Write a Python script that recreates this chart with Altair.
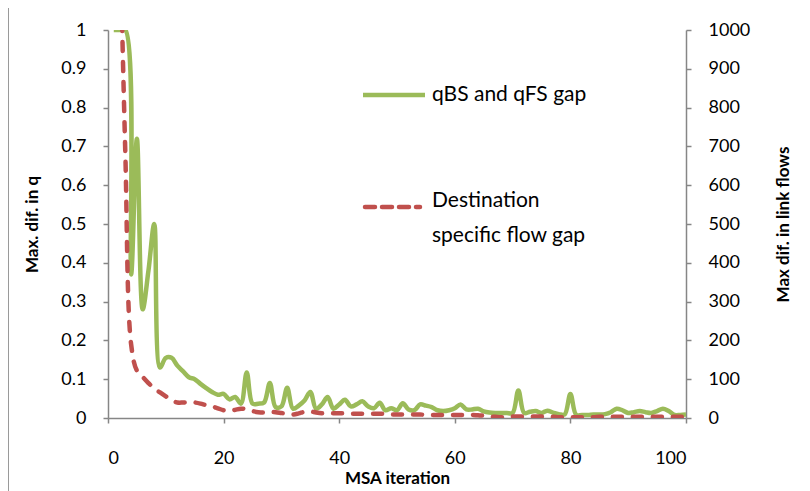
import altair as alt
import pandas as pd

iteration = list(range(1, 101))

q_gap = [
    1.0, 1.0, 1.0, 0.37, 0.72, 0.28, 0.38, 0.50, 0.13, 0.155,
    0.155, 0.135, 0.12, 0.105, 0.10, 0.088, 0.077, 0.067, 0.060, 0.062,
    0.048, 0.054, 0.037, 0.117, 0.037, 0.037, 0.040, 0.090, 0.028, 0.030,
    0.078, 0.024, 0.032, 0.045, 0.067, 0.024, 0.035, 0.054, 0.024, 0.035,
    0.047, 0.030, 0.035, 0.043, 0.030, 0.025, 0.039, 0.020, 0.025, 0.020,
    0.038, 0.022, 0.020, 0.035, 0.032, 0.028, 0.020, 0.018, 0.020, 0.025,
    0.035, 0.022, 0.022, 0.024, 0.017, 0.014, 0.013, 0.013, 0.013, 0.013,
    0.071, 0.013, 0.016, 0.018, 0.013, 0.019, 0.014, 0.010, 0.009, 0.062,
    0.008, 0.008, 0.008, 0.009, 0.009, 0.010, 0.015, 0.024, 0.020, 0.013,
    0.015, 0.018, 0.015, 0.013, 0.018, 0.024, 0.018, 0.008, 0.008, 0.009,
]

flow_gap = [
    2000, 1300, 680, 190, 122, 106, 90, 76, 66, 56,
    46, 40, 40, 41, 40, 37, 33, 30, 25, 20,
    18, 21, 24, 23, 18, 15, 14, 16, 15, 13,
    11, 9, 12, 16, 17, 14, 12, 12, 12, 12,
    12, 11, 11, 11, 11, 11, 11, 10, 9, 9,
    9, 9, 9, 9, 8, 8, 8, 8, 8, 8,
    8, 8, 8, 7, 6, 4, 3, 2, 3, 4,
    4, 4, 4, 4, 4, 3, 3, 2, 2, 2,
    2, 2, 2, 2, 3, 3, 3, 3, 3, 3,
    3, 3, 3, 3, 3, 3, 3, 3, 3, 3,
]

series_names = ["qBS and qFS gap", "Destination specific flow gap"]
legend_lines = [["qBS and qFS gap"], ["Destination", "specific flow gap"]]
series_colors = ["#9BBB59", "#C0504D"]
red_dash = [9, 11]

x_ticks = [0, 20, 40, 60, 80, 100]
q_ticks = [round(i * 0.1, 1) for i in range(11)]
f_ticks = [i * 100 for i in range(11)]

df_q = pd.DataFrame({"iter": iteration, "val": q_gap})
df_f = pd.DataFrame({"iter": iteration, "val": flow_gap})

FONT = "Lato"
AX = "#868686"

x_enc = alt.X(
    "iter:Q",
    scale=alt.Scale(domain=[0, 100], nice=False),
    axis=alt.Axis(values=x_ticks, title="MSA iteration", tickSize=5,
                  labelPadding=26, titlePadding=3, grid=False),
)

green = alt.Chart(df_q).mark_line(
    interpolate="catmull-rom", strokeWidth=4.5, clip=True, color=series_colors[0]
).encode(
    x=x_enc,
    y=alt.Y("val:Q", scale=alt.Scale(domain=[0, 1], nice=False),
            axis=alt.Axis(orient="left", values=q_ticks, format=".1~f",
                          title="Max. dif. in q", tickSize=5, labelPadding=17,
                          titlePadding=19, grid=False)),
)

red = alt.Chart(df_f).mark_line(
    interpolate="catmull-rom", strokeWidth=4.5, strokeCap="round", clip=True,
    color=series_colors[1], strokeDash=red_dash
).encode(
    x=x_enc,
    y=alt.Y("val:Q", scale=alt.Scale(domain=[0, 1000], nice=False),
            axis=alt.Axis(orient="right", values=f_ticks, format="d",
                          title="Max dif. in link flows", tickSize=5, labelPadding=17,
                          titlePadding=43, titleAngle=270, grid=False)),
)

one = pd.DataFrame({"k": [0]})

frame = alt.Chart(one).mark_rect(
    fill=None, stroke="#9a9a9a", strokeWidth=1
).encode(
    x=alt.value(-99.5), x2=alt.value(720), y=alt.value(-23.5), y2=alt.value(500)
)

leg_green = alt.Chart(one).mark_rule(
    color=series_colors[0], strokeWidth=4.5
).encode(x=alt.value(255), x2=alt.value(317), y=alt.value(65))
leg_red = alt.Chart(one).mark_rule(
    color=series_colors[1], strokeWidth=4.5, strokeDash=[10, 7], strokeCap="round"
).encode(x=alt.value(257), x2=alt.value(312), y=alt.value(177))
leg_t1 = alt.Chart(one).mark_text(
    text=legend_lines[0], font=FONT, fontSize=21, align="left", baseline="middle"
).encode(x=alt.value(324), y=alt.value(65))
leg_t2 = alt.Chart(one).mark_text(
    text=legend_lines[1], font=FONT, fontSize=21, align="left", baseline="middle",
    lineHeight=35
).encode(x=alt.value(324), y=alt.value(171))

chart = alt.layer(frame, green, red, leg_green, leg_red, leg_t1, leg_t2).resolve_scale(
    y="independent"
).properties(
    width=578, height=388,
    padding={"left": 100, "top": 22, "right": 108, "bottom": 75},
    autosize=alt.AutoSizeParams(type="none"),
).configure_view(stroke=None).configure_axis(
    domainColor=AX, tickColor=AX, domainWidth=1.5, tickWidth=1.5,
    labelFont=FONT, labelFontSize=18, labelColor="black",
    titleFont=FONT, titleFontSize=17, titleFontWeight="bold", titleColor="black",
)

chart.save("out.html", embed_options={"renderer": "svg", "actions": False})
